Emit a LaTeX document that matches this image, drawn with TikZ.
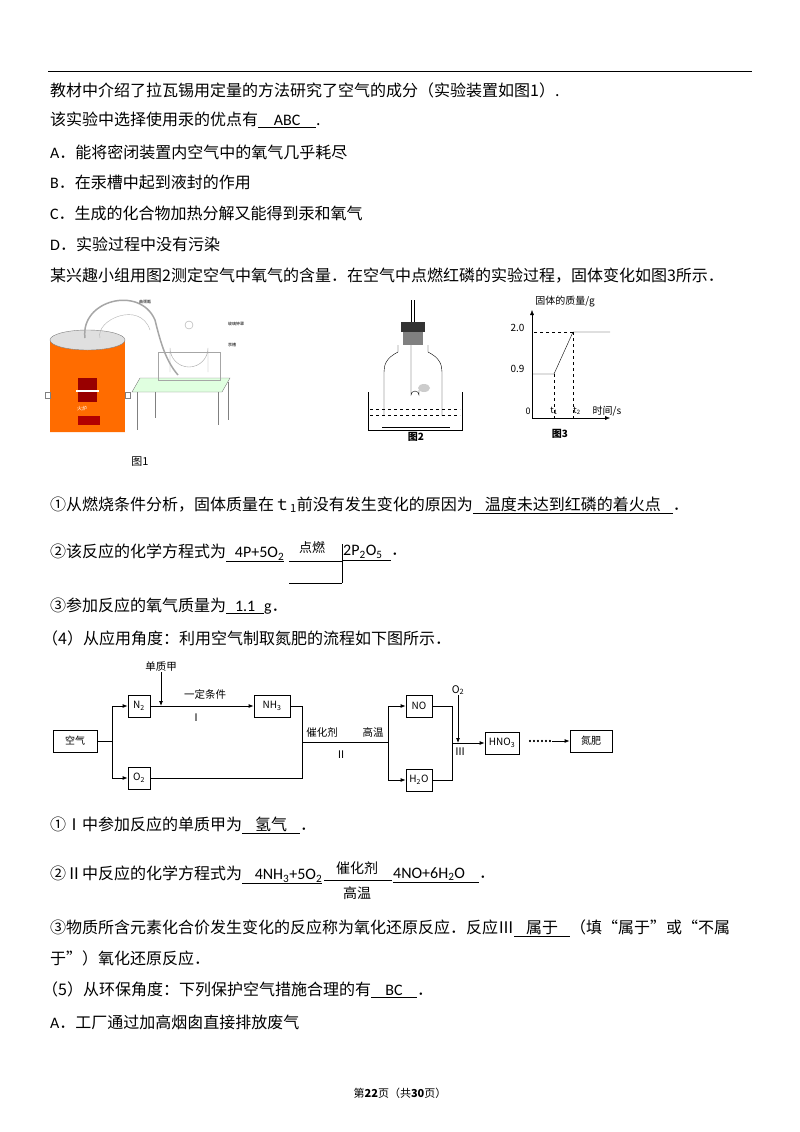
\documentclass[tikz,border=0pt]{standalone}
\usepackage{fontspec}
\setmainfont{Noto Sans CJK SC}
\newfontfamily\lat{Carlito}
\usetikzlibrary{arrows.meta}
\newcommand{\ul}[2]{\underline{\makebox[#1]{#2}}}
\begin{document}
\begin{tikzpicture}[x=1pt,y=-1pt,
 t/.style={anchor=west,inner sep=0,font=\fontsize{16}{18}\selectfont},
 fb/.style={draw,thick,minimum height=22,inner sep=2,font=\fontsize{10}{11}\selectfont},
 fl/.style={font=\fontsize{10.5}{11}\selectfont,inner sep=0},
 ar/.style={-{Latex[length=5,width=4]},thick},
 ln/.style={thick}]
\useasboundingbox (0,0) rectangle (800,1132);
\fill[white] (0,0) rectangle (800,1132);
\draw[line width=1pt] (48,72) -- (752,72);
\node[t] (l1) at (50,90) {教材中介绍了拉瓦锡用定量的方法研究了空气的成分（实验装置如图1）.};
\node[t] (l2) at (50,120) {该实验中选择使用汞的优点有\ul{58pt}{\lat ABC}.};
\node[t] (la) at (50,152) {{\lat A}．能将密闭装置内空气中的氧气几乎耗尽};
\node[t] (lb) at (50,182) {{\lat B}．在汞槽中起到液封的作用};
\node[t] (lc) at (50,213) {{\lat C}．生成的化合物加热分解又能得到汞和氧气};
\node[t] (ld) at (50,244) {{\lat D}．实验过程中没有污染};
\node[t] (l3) at (50,276) {某兴趣小组用图2测定空气中氧气的含量．在空气中点燃红磷的实验过程，固体变化如图3所示．};
% Figure 1
\fill[orange!85!red] (50,340) rectangle (125,432);
\fill[orange!85!red] (50,432) arc[start angle=180,end angle=360,x radius=37.5,y radius=10];
\fill[gray!25] (87.5,340) ellipse[x radius=37.5,y radius=10];
\draw[gray] (87.5,340) ellipse[x radius=37.5,y radius=10];
\draw[gray] (45,392) rectangle (50,398) (125,392) rectangle (130,398);
\fill[red!60!black] (78,378) rectangle (97,402);
\fill[white] (76,390) rectangle (99,392);
\fill[red!70!black] (78,416) rectangle (100,425);
\node[font=\fontsize{5}{5}\selectfont,white] (hl) at (82,409) {火炉};
\draw[gray!70,line width=1.5pt] (85,338) .. controls (80,300) and (140,285) .. (155,320) .. controls (160,340) and (165,360) .. (178,375);
\draw[gray!60] (100,338) .. controls (95,320) and (140,300) .. (150,330);
\fill[green!12] (140,378) -- (230,378) -- (222,392) -- (132,392) -- cycle;
\draw[gray] (140,378) -- (230,378) -- (222,392) -- (132,392) -- cycle;
\draw[gray] (137,392) -- (137,430) (218,392) -- (218,425) (155,392) -- (155,418) (228,382) -- (228,420);
\draw[gray!70] (158,352) rectangle (220,380);
\draw[gray!70] (170,372) -- (170,348) arc[start angle=180,end angle=0,radius=19] -- (208,372);
\draw[gray!70] (189,325) circle (4);
\node[font=\fontsize{4}{4}\selectfont] (f1a) at (145,302) {曲颈甑};
\node[font=\fontsize{4}{4}\selectfont] (f1b) at (236,324) {玻璃钟罩};
\node[font=\fontsize{4}{4}\selectfont] (f1c) at (232,345) {汞槽};
\node[font=\fontsize{11}{11}\selectfont] (f1) at (140,462) {图1};
% Figure 2
\draw (411,300) -- (411,322) (414,300) -- (414,322);
\fill[black!80] (401,322) rectangle (425,332);
\fill[black!50] (403,332) rectangle (423,345);
\draw (398,345) -- (398,352) .. controls (386,358) and (384,365) .. (384,372) -- (384,416) (428,345) -- (428,352) .. controls (440,358) and (442,365) .. (442,372) -- (442,416);
\draw (411,345) -- (411,395) arc[start angle=180,end angle=360,radius=4] -- (419,390);
\fill[gray!40] (424,388) ellipse[x radius=6,y radius=4];
\draw (368,392) -- (368,430) -- (462,430) -- (462,392);
\draw[dashed] (370,409) -- (460,409) (370,415) -- (460,415);
\draw (382,427) -- (450,427);
\node[font=\bfseries\fontsize{10}{10}\selectfont] (f2) at (416,437) {图2};
% Figure 3
\draw[-{Latex[length=5,width=4]}] (532,418) -- (532,310);
\draw[-{Latex[length=5,width=4]}] (532,418) -- (610,418);
\draw (532,374) -- (554,374) -- (573,332) -- (610,332);
\draw[dashed] (573,332) -- (532,332) (554,374) -- (554,418) (573,332) -- (573,418);
\node[font=\fontsize{10}{10}\selectfont] (g3) at (565,302) {固体的质量/g};
\node[font=\fontsize{10}{10}\selectfont,anchor=east] (v2) at (528,328) {2.0};
\node[font=\fontsize{10}{10}\selectfont,anchor=east] (v1) at (528,369) {0.9};
\node[font=\fontsize{9}{9}\selectfont] (o) at (528,411) {0};
\node[font=\fontsize{9}{9}\selectfont] (t1) at (554,411) {t\textsubscript{1}};
\node[font=\fontsize{9}{9}\selectfont] (t2) at (577,411) {t\textsubscript{2}};
\node[font=\fontsize{10}{10}\selectfont] (tm) at (607,411) {时间/s};
\node[font=\bfseries\fontsize{10}{10}\selectfont] (f3) at (560,434) {图3};
% answers
\node[t] (q1) at (50,505) {①从燃烧条件分析，固体质量在ｔ\textsubscript{1}前没有发生变化的原因为\ul{200pt}{温度未达到红磷的着火点}．};
\node[t] (q2) at (50,553) {②该反应的化学方程式为\ul{58pt}{\lat\hfill4P+5O\textsubscript{2}}};
\node[font=\fontsize{13}{13}\selectfont,inner sep=0] (dr) at (312,548) {点燃};
\draw (289,561) -- (342,561) (342,544) -- (342,583) (289,583) -- (342,583);
\node[t] (q2b) at (343,553) {\ul{48pt}{\lat 2P\textsubscript{2}O\textsubscript{5}\hfill}．};
\node[t] (q3) at (50,606) {③参加反应的氧气质量为\ul{38pt}{\lat 1.1}{\lat g}．};
\node[t] (q4) at (42,638) {（4）从应用角度：利用空气制取氮肥的流程如下图所示．};
% flow
\node[fb,minimum width=44] (air) at (75,741) {空气};
\node[fb,minimum width=22] (n2) at (139,706) {N\textsubscript{2}};
\node[fb,minimum width=22] (o2) at (139,778) {O\textsubscript{2}};
\node[fb,minimum width=36] (nh3) at (272,706) {NH\textsubscript{3}};
\node[fb,minimum width=26] (no) at (419,706) {NO};
\node[fb,minimum width=26] (h2o) at (419,780) {H\textsubscript{2}O};
\node[fb,minimum width=34] (hno3) at (502,743) {HNO\textsubscript{3}};
\node[fb,minimum width=42] (fei) at (591,741) {氮肥};
\coordinate (j1) at (112,741);
\coordinate (j2) at (302,742);
\coordinate (j3) at (388,742);
\coordinate (j4) at (452,743);
\coordinate (jd) at (161,706);
\draw[ln] (air.east) -- (j1);
\draw[ar] (j1) |- (n2.west);
\draw[ar] (j1) |- (o2.west);
\draw[ar] (n2.east) -- (nh3.west);
\node[fl] (dz) at (161,667) {单质甲};
\draw[ar] (dz.south) -- (jd);
\node[fl] (yd) at (205,694) {一定条件};
\node[fl] (r1) at (196,718) {Ⅰ};
\draw[ln] (nh3.east) -| (j2) (o2.east) -| (j2) (j2) -- (j3);
\node[fl] (ch) at (322,732) {催化剂};
\node[fl] (gw) at (373,732) {高温};
\node[fl] (r2) at (341,755) {Ⅱ};
\draw[ar] (j3) |- (no.west);
\draw[ar] (j3) |- (h2o.west);
\draw[ln] (no.east) -| (j4) (h2o.east) -| (j4);
\draw[ar] (j4) -- (hno3.west);
\node[fl] (ox) at (458,690) {O\textsubscript{2}};
\draw[ar] (ox.south) -- (458,743);
\node[fl] (r3) at (460,752) {Ⅲ};
\node[fl] (dots) at (540,741) {\textbf{……}};
\draw[ar] (dots.east) -- (fei.west);
% part 2 answers
\node[t] (p1) at (50,825) {①Ⅰ中参加反应的单质甲为\ul{58pt}{氢气}．};
\node[t] (p2) at (50,875) {②Ⅱ中反应的化学方程式为\ul{80pt}{\lat\hfill 4NH\textsubscript{3}+5O\textsubscript{2}}};
\node[font=\fontsize{14}{14}\selectfont,inner sep=0] (cj) at (357,868) {催化剂};
\node[font=\fontsize{14}{14}\selectfont,inner sep=0] (gw2) at (357,893) {高温};
\draw (324,880) -- (392,880);
\node[t] (p2b) at (393,875) {\ul{86pt}{\lat 4NO+6H\textsubscript{2}O\hfill}．};
\node[t] (p3) at (50,928) {③物质所含元素化合价发生变化的反应称为氧化还原反应．反应Ⅲ\ul{56pt}{属于}（填“属于”或“不属};
\node[t] (p3b) at (50,958) {于”）氧化还原反应．};
\node[t] (p5) at (42,990) {（5）从环保角度：下列保护空气措施合理的有\ul{46pt}{\lat BC}．};
\node[t] (pa) at (50,1022) {{\lat A}．工厂通过加高烟囱直接排放废气};
\node[font=\fontsize{11}{12}\selectfont] (ft) at (400,1093) {第\textbf{22}页（共\textbf{30}页）};
\end{tikzpicture}
\end{document}
